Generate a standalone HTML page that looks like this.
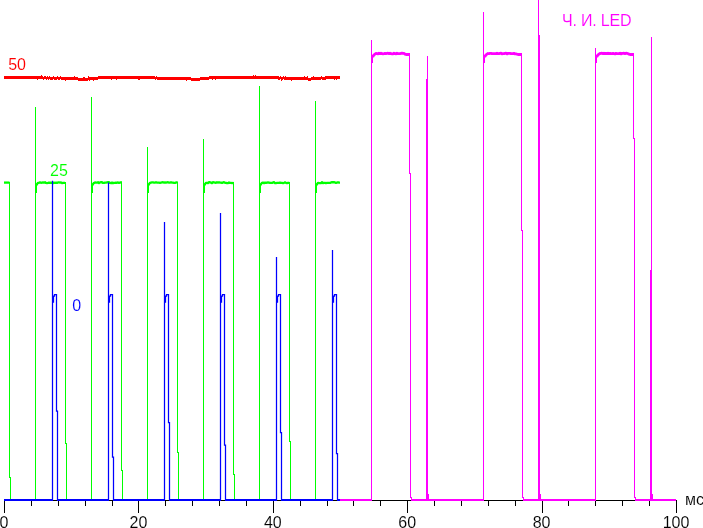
<!DOCTYPE html>
<html lang="ru"><head><meta charset="utf-8"><title>Ч. И. LED</title>
<style>
html,body{margin:0;padding:0;background:#fff;overflow:hidden}
body{width:703px;height:528px;position:relative}
</style></head><body>
<svg width="703" height="528" viewBox="0 0 703 528" style="display:block;position:absolute;left:0;top:0">
<defs><filter id="idf" x="0" y="0" width="100%" height="100%" filterUnits="userSpaceOnUse" color-interpolation-filters="sRGB"><feOffset dx="0" dy="0"/></filter></defs>
<rect width="703" height="528" fill="#fff"/>
<g fill="none" shape-rendering="crispEdges">
<path stroke="#000" stroke-width="1" d="M4,500.5H677M4.5,500v13M31.5,500v6M58.5,500v6M85.5,500v6M112.5,500v6M138.5,500v13M165.5,500v6M192.5,500v6M219.5,500v6M246.5,500v6M273.5,500v13M300.5,500v6M327.5,500v6M353.5,500v6M380.5,500v6M407.5,500v13M434.5,500v6M461.5,500v6M488.5,500v6M515.5,500v6M542.5,500v13M568.5,500v6M595.5,500v6M622.5,500v6M649.5,500v6M676.5,500v13"/>
</g>
<path fill="#ff0000" shape-rendering="crispEdges" d="M4,76h39v3h-39zM43,77h1v3h-1zM44,76h2v3h-2zM46,77h1v3h-1zM47,76h1v3h-1zM48,77h1v3h-1zM49,76h1v3h-1zM50,77h3v3h-3zM53,76h1v3h-1zM54,77h3v3h-3zM57,76h1v3h-1zM58,77h2v3h-2zM60,76h1v3h-1zM61,77h17v3h-17zM78,78h10v3h-10zM88,77h10v3h-10zM98,76h57v3h-57zM155,77h1v3h-1zM156,76h1v3h-1zM157,77h34v3h-34zM191,78h9v3h-9zM200,77h9v3h-9zM209,76h70v3h-70zM279,77h1v3h-1zM280,76h1v3h-1zM281,77h2v3h-2zM283,76h1v3h-1zM284,77h24v3h-24zM308,78h3v3h-3zM311,77h10v3h-10zM321,76h1v3h-1zM322,77h4v3h-4zM326,76h14v3h-14zM37,79h1v1h-1zM41,75h1v1h-1zM65,80h1v1h-1zM74,76h1v1h-1zM83,77h1v1h-1zM84,77h1v1h-1zM88,76h1v1h-1zM89,80h1v1h-1zM93,80h1v1h-1zM111,79h1v1h-1zM116,79h1v1h-1zM138,79h1v1h-1zM139,79h1v1h-1zM186,80h1v1h-1zM212,79h1v1h-1zM215,79h1v1h-1zM253,75h1v1h-1zM255,75h1v1h-1zM278,79h1v1h-1zM281,80h1v1h-1zM285,76h1v1h-1zM291,80h1v1h-1zM304,76h1v1h-1zM307,76h1v1h-1zM313,76h1v1h-1zM325,76h1v1h-1zM334,79h1v1h-1zM336,79h1v1h-1z"/>
<g fill="none" stroke="#00ff00" stroke-linejoin="miter">
<polyline stroke-width="1" shape-rendering="crispEdges" points="4,182.5 9.5,182.5 9.5,477 10.5,477 10.5,499.5 35.5,499.5 35.5,107 35.5,192 36.5,192 36.5,184 37.5,184 37.5,182.5 65.5,182.5 65.5,443 66.5,443 66.5,499.5 91.5,499.5 91.5,97 91.5,192 92.5,192 92.5,184 93.5,184 93.5,182.5 121.5,182.5 121.5,470 122.5,470 122.5,499.5 147.5,499.5 147.5,147 147.5,192 148.5,192 148.5,184 149.5,184 149.5,182.5 177.5,182.5 177.5,452.5 178.5,452.5 178.5,499.5 203.5,499.5 203.5,138.7 203.5,192 204.5,192 204.5,184 205.5,184 205.5,182.5 233.5,182.5 233.5,474 234.5,474 234.5,499.5 259.5,499.5 259.5,86 259.5,192 260.5,192 260.5,184 261.5,184 261.5,182.5 289.5,182.5 289.5,441 290.5,441 290.5,499.5 315.5,499.5 315.5,101 315.5,192 316.5,192 316.5,184 317.5,184 317.5,182.5 340,182.5"/>
<polyline stroke-width="2.3" stroke-linejoin="round" points="4,182.6 9.5,182.6"/>
<polyline stroke-width="2.3" stroke-linejoin="round" points="36.5,185.2 37.3,183.6 38.1,182.9 39,182.8 40,182.4 41,182.8 42,182.6 43,182.4 44,182.6 45,182.25 46,182.95 47,183.1 48,182.95 49,182.6 50,182.95 51,182.6 52,182.8 53,183.1 54,182.6 55,182.8 56,182.6 57,182.95 58,182.4 59,182.4 60,182.6 61,182.4 62,183.1 63,182.95 64,182.95 65,182.95 65.5,182.6"/>
<polyline stroke-width="2.3" stroke-linejoin="round" points="92.5,185.2 93.3,183.6 94.1,182.9 95,182.4 96,182.6 97,182.6 98,182.25 99,183.1 100,182.4 101,182.25 102,182.25 103,182.95 104,182.95 105,182.6 106,182.6 107,182.4 108,182.25 109,182.25 110,182.95 111,183.1 112,182.6 113,183.1 114,182.8 115,182.95 116,182.6 117,182.8 118,182.4 119,182.95 120,182.6 121,182.25 121.5,182.6"/>
<polyline stroke-width="2.3" stroke-linejoin="round" points="148.5,185.2 149.3,183.6 150.1,182.9 151,182.6 152,182.4 153,182.4 154,182.6 155,182.6 156,182.25 157,182.6 158,182.6 159,182.6 160,182.8 161,182.6 162,182.4 163,182.25 164,182.6 165,182.4 166,182.6 167,182.4 168,182.25 169,182.6 170,182.6 171,182.25 172,182.6 173,182.6 174,182.8 175,182.95 176,182.4 177,182.4 177.5,182.6"/>
<polyline stroke-width="2.3" stroke-linejoin="round" points="204.5,185.2 205.3,183.6 206.1,182.9 207,182.8 208,183.1 209,182.25 210,182.25 211,182.6 212,183.1 213,182.25 214,182.4 215,182.6 216,182.8 217,182.25 218,182.6 219,182.25 220,182.6 221,182.6 222,182.95 223,182.4 224,182.25 225,182.8 226,182.8 227,183.1 228,183.1 229,182.4 230,182.95 231,182.95 232,183.1 233,182.8 233.5,182.6"/>
<polyline stroke-width="2.3" stroke-linejoin="round" points="260.5,185.2 261.3,183.6 262.1,182.9 263,182.6 264,183.1 265,182.6 266,182.95 267,182.6 268,182.4 269,182.6 270,182.95 271,182.8 272,182.95 273,182.4 274,182.25 275,183.1 276,183.1 277,182.95 278,182.8 279,182.95 280,182.6 281,182.95 282,182.95 283,183.1 284,182.8 285,182.4 286,182.8 287,183.1 288,182.8 289,182.8 289.5,182.6"/>
<polyline stroke-width="2.3" stroke-linejoin="round" points="316.5,185.2 317.3,183.6 318.1,182.9 319,183.1 320,183.1 321,183.1 322,182.25 323,183.1 324,182.95 325,182.8 326,183.1 327,182.95 328,182.95 329,182.95 330,182.95 331,182.4 332,182.25 333,182.25 334,182.25 335,182.4 336,182.95 337,182.6 338,182.25 339,182.6 340,182.6"/>
</g>
<g fill="none" stroke="#0000ff" stroke-linejoin="miter">
<path stroke-width="2" shape-rendering="crispEdges" d="M4,500H53M57,500H109M113,500H165M169,500H221M225,500H277M281,500H333M337,500H340"/>
<polyline stroke-width="1.25" points="52.5,500.5 52.5,180.7 52.5,302 53.5,302 53.5,296 54.5,296 54.5,294.5 56.5,294.5 56.5,411 57.5,411 57.5,500.5"/>
<polyline stroke-width="1.25" points="108.5,500.5 108.5,182.5 108.5,302 109.5,302 109.5,296 110.5,296 110.5,294.5 112.5,294.5 112.5,457 113.5,457 113.5,500.5"/>
<polyline stroke-width="1.25" points="164.5,500.5 164.5,222 164.5,302 165.5,302 165.5,296 166.5,296 166.5,294.5 168.5,294.5 168.5,422.7 169.5,422.7 169.5,500.5"/>
<polyline stroke-width="1.25" points="220.5,500.5 220.5,213 220.5,302 221.5,302 221.5,296 222.5,296 222.5,294.5 224.5,294.5 224.5,445 225.5,445 225.5,500.5"/>
<polyline stroke-width="1.25" points="276.5,500.5 276.5,257 276.5,302 277.5,302 277.5,296 278.5,296 278.5,294.5 280.5,294.5 280.5,432.6 281.5,432.6 281.5,500.5"/>
<polyline stroke-width="1.25" points="332.5,500.5 332.5,250 332.5,302 333.5,302 333.5,296 334.5,296 334.5,294.5 336.5,294.5 336.5,453.5 337.5,453.5 337.5,500.5"/>
</g>
<g fill="none" stroke="#ff00ff" stroke-linejoin="miter">
<path stroke-width="2" shape-rendering="crispEdges" d="M340,500H372M411,500H484M523,500H596M635,500H676"/>
<polyline stroke-width="1" shape-rendering="crispEdges" points="371.5,500.5 371.5,40 371.5,62 372.5,62 372.5,56.5 373.5,56.5 373.5,54.5 375.5,54.5"/>
<polyline stroke-width="1" shape-rendering="crispEdges" points="409.5,54.5 409.5,173 410.5,173 410.5,497.5 411.5,497.5 411.5,500.5"/>
<polyline stroke-width="1" shape-rendering="crispEdges" points="427.5,500.5 427.5,55.8"/>
<polyline stroke-width="1" shape-rendering="crispEdges" points="483.5,500.5 483.5,11.8 483.5,62 484.5,62 484.5,56.5 485.5,56.5 485.5,54.5 487.5,54.5"/>
<polyline stroke-width="1" shape-rendering="crispEdges" points="521.5,54.5 521.5,230 522.5,230 522.5,497.5 523.5,497.5 523.5,500.5"/>
<polyline stroke-width="1" shape-rendering="crispEdges" points="538.5,500.5 538.5,-2"/>
<polyline stroke-width="1" shape-rendering="crispEdges" points="595.5,500.5 595.5,47.8 595.5,62 596.5,62 596.5,56.5 597.5,56.5 597.5,54.5 599.5,54.5"/>
<polyline stroke-width="1" shape-rendering="crispEdges" points="633.5,54.5 633.5,138 634.5,138 634.5,497.5 635.5,497.5 635.5,500.5"/>
<polyline stroke-width="1" shape-rendering="crispEdges" points="651.5,500.5 651.5,36.9"/>
<polyline stroke-width="2.8" stroke-linejoin="round" points="372.7,57 373.5,55.4 374.5,54.4 376,53.5 377,53.6 378,53.85 379,53.2 380,53.7 381,53.2 382,53.7 383,53.85 384,53.7 385,53.4 386,53.6 387,53.4 388,53.2 389,53.6 390,53.2 391,53.7 392,53.85 393,53.85 394,53.2 395,53.7 396,53.85 397,53.2 398,53.7 399,53.7 400,53.6 401,53.4 402,53.2 403,53.4 404,53.4 405,54.2 406,54.5 410,54.5"/>
<polyline stroke-width="2.8" stroke-linejoin="round" points="484.7,57 485.5,55.4 486.5,54.4 488,53.5 489,53.7 490,53.4 491,53.4 492,53.7 493,53.7 494,53.6 495,53.6 496,53.6 497,53.2 498,53.6 499,53.7 500,53.4 501,53.2 502,53.85 503,53.7 504,53.7 505,53.4 506,53.2 507,53.85 508,53.4 509,53.4 510,53.4 511,53.7 512,53.7 513,53.7 514,53.4 515,53.85 516,53.85 517,54.2 518,54.5 522,54.5"/>
<polyline stroke-width="2.8" stroke-linejoin="round" points="596.7,57 597.5,55.4 598.5,54.4 600,53.5 601,53.4 602,53.2 603,53.6 604,53.2 605,53.6 606,53.4 607,53.7 608,53.2 609,53.7 610,53.4 611,53.7 612,53.6 613,53.4 614,53.7 615,53.85 616,53.4 617,53.6 618,53.6 619,53.6 620,53.2 621,53.85 622,53.4 623,53.4 624,53.2 625,53.6 626,53.2 627,53.4 628,53.6 629,54.2 630,54.5 634,54.5"/>
<path stroke-width="1" shape-rendering="crispEdges" d="M426.5,79V500.5"/>
<path stroke-width="1" shape-rendering="crispEdges" d="M428.5,494V500.5"/>
<path stroke-width="1" shape-rendering="crispEdges" d="M539.5,34.8V500.5"/>
<path stroke-width="1" shape-rendering="crispEdges" d="M540.5,494V500.5"/>
<path stroke-width="1" shape-rendering="crispEdges" d="M650.5,269.7V500.5"/>
<path stroke-width="1" shape-rendering="crispEdges" d="M652.5,494V500.5"/>
</g>
<g font-family="'Liberation Sans', Arial, sans-serif" font-size="16px" stroke="#fff" stroke-width="0.1" filter="url(#idf)">
<text x="8.2" y="69.8" fill="#ff0000">50</text>
<text x="50" y="175.5" fill="#00ff00">25</text>
<text x="72.2" y="311" fill="#0000ff">0</text>
<text x="562" y="25.5" fill="#ff00ff" letter-spacing="-0.2">Ч. И. LED</text>
<text x="685" y="505" fill="#000">мс</text>
<text x="4" y="528" fill="#000" text-anchor="middle">0</text>
<text x="138.4" y="528" fill="#000" text-anchor="middle">20</text>
<text x="272.8" y="528" fill="#000" text-anchor="middle">40</text>
<text x="407.2" y="528" fill="#000" text-anchor="middle">60</text>
<text x="541.6" y="528" fill="#000" text-anchor="middle">80</text>
<text x="676" y="528" fill="#000" text-anchor="middle">100</text>
</g>
</svg>
</body></html>
